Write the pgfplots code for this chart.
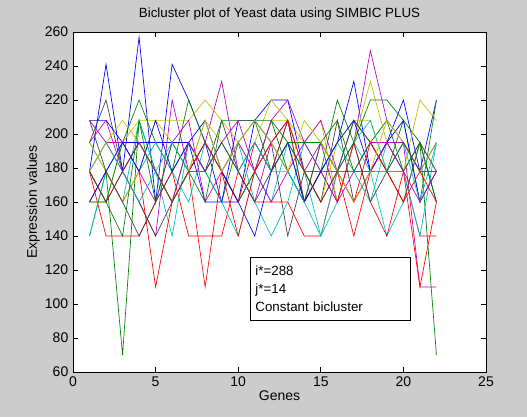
\documentclass[border=0pt]{standalone}
\usepackage{pgfplots}
\pgfplotsset{compat=1.18}
\usepackage{fontspec}
\setmainfont{Liberation Sans}
\definecolor{mb}{rgb}{0,0,1}
\definecolor{mg}{rgb}{0,0.5,0}
\definecolor{mr}{rgb}{1,0,0}
\definecolor{mc}{rgb}{0,0.75,0.75}
\definecolor{mm}{rgb}{0.75,0,0.75}
\definecolor{my}{rgb}{0.75,0.75,0}
\definecolor{mk}{rgb}{0.25,0.25,0.25}
\definecolor{figbg}{rgb}{0.8,0.8,0.8}
\newcommand{\ser}[2]{\addplot[#1, line width=0.5pt] table[x expr=\coordindex+1, y index=0, header=false, row sep=\\] {#2};}
\begin{document}
\begin{tikzpicture}
\fill[figbg] (-54.75pt,-33.75pt) rectangle (340.5pt,279pt);
\begin{axis}[
  at={(0,0)}, anchor=south west,
  scale only axis, width=309.75pt, height=255pt,
  xmin=0, xmax=25, ymin=60, ymax=260,
  xtick={0,5,...,25}, ytick={60,80,...,260},
  tick align=inside, tick pos=both,
  major tick length=4pt,
  axis background/.style={fill=white},
  axis line style={line width=0.6pt},
  tick style={black, line width=0.5pt},
  /pgf/number format/assume math mode=true,
  ticklabel style={font=\fontsize{10.5}{12}\selectfont},
  title={Bicluster plot of Yeast data using SIMBIC PLUS},
  title style={font=\fontsize{10}{12}\selectfont, yshift=-1pt},
  xlabel={Genes}, ylabel={Expression values},
  label style={font=\fontsize{10.5}{12}\selectfont},
  xlabel style={yshift=4pt},
  ylabel style={yshift=-3pt},
  clip=true,
]
\ser{mb}{178\\241\\178\\257\\160\\241\\220\\195\\160\\160\\208\\195\\178\\160\\178\\195\\231\\178\\195\\220\\178\\220\\}
\ser{mg}{140\\178\\70\\208\\178\\160\\195\\178\\160\\195\\208\\178\\195\\160\\195\\178\\208\\195\\178\\208\\195\\70\\}
\ser{mr}{178\\140\\140\\140\\160\\178\\140\\140\\140\\178\\160\\160\\160\\140\\140\\178\\140\\178\\178\\178\\140\\140\\}
\ser{mc}{140\\178\\160\\208\\178\\140\\195\\178\\160\\140\\178\\160\\195\\178\\140\\160\\195\\178\\140\\160\\195\\160\\}
\ser{mm}{208\\195\\178\\160\\140\\220\\178\\195\\231\\178\\160\\195\\208\\178\\195\\160\\195\\249\\208\\195\\110\\110\\}
\ser{my}{160\\160\\195\\208\\208\\208\\208\\220\\208\\195\\178\\208\\208\\195\\208\\160\\195\\231\\195\\178\\220\\208\\}
\ser{mk}{195\\220\\178\\160\\140\\160\\178\\195\\178\\160\\178\\195\\140\\178\\160\\208\\160\\178\\195\\178\\195\\160\\}
\ser{mb}{208\\208\\195\\195\\195\\195\\195\\160\\160\\208\\208\\220\\220\\178\\178\\178\\178\\178\\195\\195\\178\\195\\}
\ser{mg}{160\\160\\195\\220\\195\\178\\220\\195\\178\\160\\178\\208\\178\\160\\178\\220\\195\\220\\220\\208\\160\\220\\}
\ser{mr}{160\\178\\160\\178\\110\\160\\178\\110\\178\\160\\195\\178\\208\\160\\178\\160\\195\\160\\140\\178\\110\\160\\}
\ser{mc}{195\\178\\195\\178\\195\\178\\160\\195\\178\\195\\160\\140\\160\\195\\178\\195\\178\\160\\195\\178\\140\\195\\}
\ser{mm}{178\\195\\195\\178\\160\\195\\208\\160\\178\\195\\178\\208\\220\\195\\178\\160\\178\\195\\195\\195\\178\\178\\}
\ser{my}{195\\178\\160\\178\\208\\195\\178\\208\\195\\178\\195\\220\\208\\178\\160\\195\\208\\208\\178\\160\\195\\178\\}
\ser{mk}{208\\178\\160\\140\\160\\178\\195\\178\\208\\178\\195\\178\\208\\160\\195\\178\\208\\195\\178\\160\\195\\178\\}
\ser{mb}{160\\178\\195\\178\\208\\178\\195\\208\\178\\160\\140\\178\\195\\160\\178\\195\\208\\178\\195\\208\\160\\178\\}
\ser{mg}{178\\160\\140\\208\\160\\195\\178\\160\\208\\208\\208\\208\\195\\195\\195\\208\\178\\195\\208\\178\\195\\160\\}
\ser{mr}{178\\160\\178\\195\\178\\160\\178\\195\\178\\140\\178\\195\\208\\178\\160\\178\\160\\195\\178\\160\\178\\160\\}
\ser{mc}{178\\195\\178\\160\\178\\195\\178\\178\\195\\178\\195\\178\\178\\160\\140\\178\\195\\208\\178\\195\\160\\195\\}
\ser{mm}{195\\208\\178\\195\\178\\160\\195\\178\\195\\208\\178\\160\\178\\195\\208\\178\\160\\178\\195\\178\\160\\178\\}
\ser{my}{178\\195\\208\\195\\178\\160\\178\\208\\178\\195\\208\\195\\178\\208\\195\\178\\160\\178\\208\\195\\178\\195\\}
\ser{mk}{178\\160\\178\\195\\178\\160\\178\\178\\195\\178\\160\\178\\195\\178\\160\\178\\195\\160\\178\\195\\178\\178\\}
\node[draw=black, fill=white, line width=0.5pt, anchor=north west, align=left,
      inner xsep=4pt, inner ysep=3pt, minimum width=120pt, minimum height=47pt,
      font=\fontsize{10}{13.5}\selectfont, text width=112pt]
  at (axis cs:10.7,127.6) {i*=288\\ j*=14\\ Constant bicluster};
\end{axis}
\pgfresetboundingbox
\useasboundingbox (-54.75pt,-33.75pt) rectangle (340.5pt,279pt);
\end{tikzpicture}
\end{document}
